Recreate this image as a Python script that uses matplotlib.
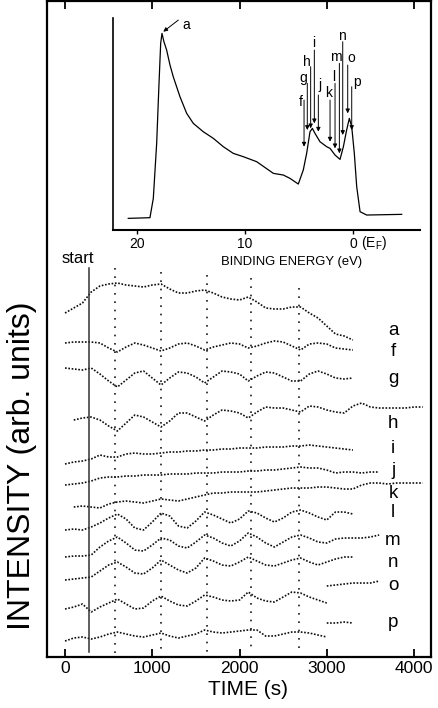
import matplotlib.pyplot as plt
import numpy as np

plt.rcParams['font.family'] = ['Liberation Sans', 'DejaVu Sans']
plt.rcParams['mathtext.fontset'] = 'custom'
plt.rcParams['mathtext.rm'] = 'Liberation Sans'
plt.rcParams['mathtext.it'] = 'Liberation Sans:italic'

# ---- inset: photoemission spectrum ----
spec_ev = [20.77, 18.77, 18.46, 18.15, 17.94, 17.78, 17.66, 17.48, 17.23, 16.92,
           16.62, 16.0, 15.38, 14.77, 13.85, 12.92, 12.0, 11.08, 10.15, 8.92,
           7.38, 6.46, 5.85, 5.08, 4.62, 4.31, 4.0, 3.78, 3.54, 3.08,
           2.46, 2.15, 1.69, 1.23, 0.92, 0.62, 0.37, 0.15, -0.09, -0.31,
           -0.62, -1.23, -4.46]
spec_int = [0, 2, 60, 225, 400, 525, 555, 530, 505, 460,
            425, 365, 315, 285, 260, 240, 215, 195, 185, 170,
            135, 130, 120, 103, 145, 195, 260, 270, 255, 230,
            215, 210, 190, 177, 215, 265, 300, 275, 195, 95,
            20, 10, 12]

arrow_labels = ['f', 'g', 'h', 'i', 'j', 'k', 'l', 'm', 'n', 'o', 'p']
arrow_ev = [4.55, 4.25, 3.94, 3.60, 3.23, 2.15, 1.69, 1.29, 0.98, 0.52, 0.15]
arrow_tip = [215, 265, 270, 285, 260, 230, 210, 195, 250, 315, 265]
arrow_tail = [355, 405, 455, 505, 370, 355, 405, 465, 530, 460, 395]
label_ev = [4.86, 4.62, 4.25, 3.63, 3.08, 2.31, 1.85, 1.60, 1.02, 0.15, -0.31]
label_int = [350, 420, 470, 525, 400, 377, 423, 485, 547, 480, 410]

# ---- main panel: intensity vs time (levels, rows from top) ----
a_vals = [313, 308, 303, 292, 286, 284, 283, 285, 286, 287, 285, 284, 289, 293, 293, 291, 290,
          293, 297, 299, 300, 297, 302, 308, 309, 309, 307, 307, 313, 318, 326, 334, 336, 340]
f_vals = [343, 342, 342, 342, 343, 348, 352, 347, 343, 345, 348, 351, 348, 344, 343, 346, 350,
          347, 345, 343, 344, 348, 346, 343, 341, 342, 346, 350, 344, 343, 344, 348, 349, 350]
g_vals = [368, 369, 370, 368, 374, 381, 387, 380, 373, 371, 378, 385, 378, 372, 373, 377, 383,
          377, 371, 372, 374, 381, 376, 372, 373, 377, 381, 381, 374, 371, 374, 378, 379, 378]
h_vals = [420, 418, 417, 420, 426, 431, 423, 415, 417, 422, 427, 421, 413, 413, 417, 421, 415,
          410, 411, 413, 418, 412, 407, 408, 408, 410, 412, 406, 407, 410, 412, 413, 406, 403,
          407, 408, 408, 408, 408, 407, 407]
i_vals = [464, 462, 461, 459, 455, 457, 457, 454, 453, 454, 454, 453, 452, 452, 451, 451, 450,
          450, 449, 449, 448, 448, 448, 447, 447, 447, 446, 446, 445, 446, 447, 448, 449, 450]
j_vals = [485, 484, 483, 481, 478, 477, 477, 476, 476, 475, 475, 475, 474, 474, 474, 473, 473,
          473, 472, 472, 472, 471, 471, 470, 470, 469, 468, 467, 468, 468, 470, 473, 472, 472,
          473, 472, 472]
k_vals = [507, 506, 507, 508, 504, 502, 501, 502, 503, 501, 499, 500, 501, 499, 497, 495, 493,
          493, 492, 492, 492, 492, 491, 490, 489, 488, 488, 488, 487, 487, 488, 489, 489, 485,
          483, 483, 484, 483, 483, 483, 483]
l_vals = [530, 529, 530, 527, 523, 518, 514, 519, 528, 530, 522, 513, 516, 526, 528, 521, 512,
          515, 519, 523, 519, 511, 513, 518, 522, 518, 512, 510, 513, 517, 520, 512, 512, 514]
m_vals = [557, 556, 556, 555, 547, 541, 537, 543, 550, 551, 545, 538, 540, 546, 548, 542, 535,
          538, 543, 546, 541, 533, 537, 543, 547, 542, 537, 535, 538, 542, 543, 539, 538, 538,
          538, 537, 535]
n_vals = [580, 579, 578, 577, 571, 565, 562, 567, 573, 574, 568, 560, 565, 570, 573, 568, 558,
          561, 565, 566, 562, 557, 561, 565, 566, 563, 560, 558, 562, 565, 562, 559, 557, 557]
o_vals = [609, 607, 604, 612, 607, 603, 599, 604, 609, 608, 601, 596, 601, 605, 606, 601, 595,
          597, 600, 601, 600, 592, 598, 601, 602, 597, 592, 593, 597, 600, 603]
o_tail = [586, 585, 584, 583, 583, 583, 581]
p_vals = [641, 638, 637, 639, 637, 634, 632, 634, 636, 637, 635, 633, 636, 638, 636, 634, 630,
          632, 633, 632, 631, 630, 630, 636, 636, 634, 632, 632, 633, 635, 637]
p_tail = [623, 623, 622, 623]

trace_names = ['a', 'f', 'g', 'h', 'i', 'j', 'k', 'l', 'm', 'n', 'o', 'p']
name_rows = [330, 351, 378, 423, 448, 470, 493, 512, 540, 562, 585, 622]
start_time = 270
period_marks = [570, 1095, 1630, 2130, 2680]
mark_top = [268, 272, 275, 278, 288]

ROWS = 708  # plot rows -> upward intensity


def lvl(v):
    return ROWS - np.asarray(v, dtype=float)


fig = plt.figure(figsize=(4.39, 7.08), dpi=100)

ax = fig.add_axes([0.1064, 0.072, 0.8754, 0.9259])
ax.set_xlim(-210, 4195)
ax.set_ylim(ROWS - 657, ROWS - 1.5)

segments = [
    (np.arange(0, 3301, 100), a_vals),
    (np.arange(0, 3301, 100), f_vals),
    (np.arange(0, 3301, 100), g_vals),
    (np.arange(100, 4101, 100), h_vals),
    (np.arange(0, 3301, 100), i_vals),
    (np.arange(0, 3601, 100), j_vals),
    (np.arange(100, 4101, 100), k_vals),
    (np.arange(0, 3301, 100), l_vals),
    (np.arange(0, 3601, 100), m_vals),
    (np.arange(0, 3301, 100), n_vals),
    (np.arange(0, 3001, 100), o_vals),
    (np.arange(3000, 3601, 100), o_tail),
    (np.arange(0, 3001, 100), p_vals),
    (np.arange(3000, 3301, 100), p_tail),
]
for t, v in segments:
    ax.plot(t, lvl(v), color='0.05', lw=1.2, ls=(0, (1, 1)))

for name, row in zip(trace_names, name_rows):
    ax.text(3760, ROWS - row, name, ha='center', va='center', fontsize=13.5)

ax.plot([start_time, start_time], [ROWS - 268, ROWS - 652], color='0.2', lw=1.1)
ax.text(150, ROWS - 258, 'start', ha='center', va='center', fontsize=12)
for t, top in zip(period_marks, mark_top):
    ax.plot([t, t], [ROWS - top, ROWS - 653], color='0.1', lw=1.2, ls=(0, (1, 4)))

ax.set_xticks([0, 1000, 2000, 3000, 4000])
ax.set_yticks([])
ax.tick_params(axis='x', direction='in', length=6, width=1.3, top=True,
               labelsize=12.5, pad=3)
for s in ax.spines.values():
    s.set_linewidth(1.6)
ax.set_xlabel('TIME (s)', fontsize=15, labelpad=3)
ax.xaxis.set_label_coords(0.524, -0.035)
fig.text(22 / 439, 1 - 466 / 708, 'INTENSITY (arb. units)', rotation=90,
         ha='center', va='center', fontsize=23)

# ---- inset ----
ins = fig.add_axes([0.2574, 0.6751, 0.6993, 0.2994])
ins.plot(spec_ev, spec_int, color='k', lw=0.9)
ins.set_xlim(22.18, -6.15)
ins.set_ylim(-35, 601)
ins.spines['top'].set_visible(False)
ins.spines['right'].set_visible(False)
ins.spines['left'].set_linewidth(1.2)
ins.spines['bottom'].set_linewidth(1.5)
ins.set_yticks([])
ins.set_xticks([20, 10, 0])
ins.set_xticklabels(['20', '10', '0'])
ins.tick_params(axis='x', direction='out', length=3, width=1, labelsize=10, pad=2)
ins.set_facecolor('none')
ins.text(-0.75, -0.063, r'(E$_\mathrm{F}$)', transform=ins.get_xaxis_transform(),
         ha='left', va='center', fontsize=10)
ins.text(0.583, -0.152, 'BINDING ENERGY (eV)', transform=ins.transAxes,
         ha='center', va='center', fontsize=9.4)

ins.annotate('', xy=(17.54, 560), xytext=(16.15, 595),
             arrowprops=dict(arrowstyle='-|>', color='k', lw=0.7, mutation_scale=6,
                             shrinkA=0, shrinkB=0))
ins.text(15.38, 580, 'a', ha='center', va='center', fontsize=10)
for lab, e, tip, tail, le, li in zip(arrow_labels, arrow_ev, arrow_tip, arrow_tail,
                                     label_ev, label_int):
    ins.annotate('', xy=(e, tip), xytext=(e, tail),
                 arrowprops=dict(arrowstyle='-|>', color='k', lw=0.7, mutation_scale=6,
                                 shrinkA=0, shrinkB=0))
    ins.text(le, li, lab, ha='center', va='center', fontsize=10)

fig.savefig('out.png', dpi=100)
